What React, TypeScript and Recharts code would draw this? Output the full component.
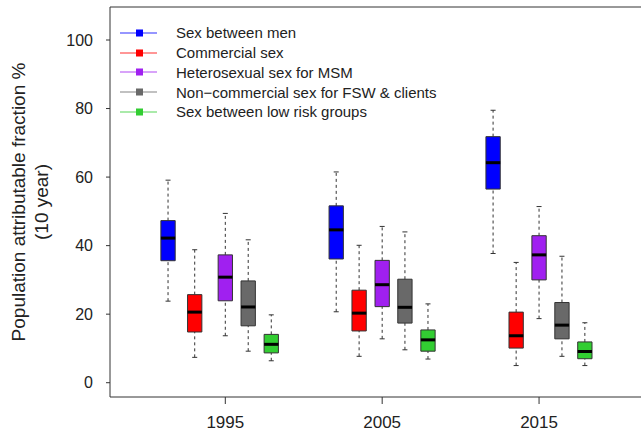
import React from "react"
import { ComposedChart, XAxis, YAxis, Scatter, ReferenceArea, ReferenceLine, Label } from "recharts"

// tick labels
const yearTicks = [1995, 2005, 2015]
const pafTicks = [0, 20, 40, 60, 80, 100]

const seriesNames = [
  "Sex between men",
  "Commercial sex",
  "Heterosexual sex for MSM",
  "Non\u2212commercial sex for FSW & clients",
  "Sex between low risk groups",
]
const seriesColors = ["#0000FF", "#FF0000", "#A020F0", "#696969", "#32CD32"]

// box centres (calendar year) for 1995 / 2005 / 2015
const msmPos = [1991.35, 2002.07, 2012.07]
const commPos = [1993.05, 2003.53, 2013.54]
const hetPos = [1995.0, 2005.0, 2015.0]
const noncommPos = [1996.46, 2006.45, 2016.46]
const lowPos = [1997.93, 2007.92, 2017.92]

// whisker low, Q1, median, Q3, whisker high
const msmLo = [23.8, 20.7, 37.7]
const msmQ1 = [35.6, 36.1, 56.5]
const msmMed = [42.2, 44.6, 64.2]
const msmQ3 = [47.3, 51.6, 71.8]
const msmHi = [59.1, 61.5, 79.5]

const commLo = [7.4, 7.7, 5.0]
const commQ1 = [14.8, 15.1, 10.1]
const commMed = [20.6, 20.3, 13.7]
const commQ3 = [25.7, 27.0, 20.6]
const commHi = [38.8, 40.1, 35.1]

const hetLo = [13.7, 12.8, 18.7]
const hetQ1 = [23.9, 22.2, 30.0]
const hetMed = [30.8, 28.6, 37.3]
const hetQ3 = [37.3, 35.7, 42.9]
const hetHi = [49.4, 45.6, 51.4]

const noncommLo = [9.2, 9.6, 7.7]
const noncommQ1 = [16.6, 17.4, 12.8]
const noncommMed = [22.1, 22.0, 16.8]
const noncommQ3 = [29.7, 30.2, 23.4]
const noncommHi = [41.7, 44.0, 36.9]

const lowLo = [6.4, 6.9, 5.0]
const lowQ1 = [8.7, 9.2, 7.0]
const lowMed = [11.2, 12.5, 9.1]
const lowQ3 = [14.1, 15.4, 11.9]
const lowHi = [19.8, 23.0, 17.5]

const X_DOMAIN = [1987.65, 2022.71]
const Y_DOMAIN = [-4.17, 109.63]
const HALF_BOX = 0.456
const HALF_CAP = 0.16
const FONT = "'Liberation Sans', Arial, sans-serif"
const INK = "#222"

const seriesStats = [
  { pos: msmPos, lo: msmLo, q1: msmQ1, med: msmMed, q3: msmQ3, hi: msmHi },
  { pos: commPos, lo: commLo, q1: commQ1, med: commMed, q3: commQ3, hi: commHi },
  { pos: hetPos, lo: hetLo, q1: hetQ1, med: hetMed, q3: hetQ3, hi: hetHi },
  { pos: noncommPos, lo: noncommLo, q1: noncommQ1, med: noncommMed, q3: noncommQ3, hi: noncommHi },
  { pos: lowPos, lo: lowLo, q1: lowQ1, med: lowMed, q3: lowQ3, hi: lowHi },
]

const boxes = seriesStats.flatMap((s, si) =>
  s.pos.map((x, i) => ({
    key: `${si}-${i}`,
    color: seriesColors[si],
    x,
    lo: s.lo[i],
    q1: s.q1[i],
    med: s.med[i],
    q3: s.q3[i],
    hi: s.hi[i],
  }))
)

const YLabel = () => (
  <g fontFamily={FONT} fontSize={19} fill={INK}>
    <text transform="translate(18, 202) rotate(-90)" textAnchor="middle" dominantBaseline="central" fill={INK}>
      Population attributable fraction %
    </text>
    <text transform="translate(41, 202) rotate(-90)" textAnchor="middle" dominantBaseline="central" fill={INK}>
      (10 year)
    </text>
  </g>
)

const LegendBox = () => (
  <div style={{ position: "absolute", left: 120, top: 23, fontFamily: FONT, fontSize: 15, color: INK }}>
    {seriesNames.map((name, i) => (
      <div key={name} style={{ display: "flex", alignItems: "center", height: 19.75 }}>
        <svg width={38} height={10} style={{ marginRight: 18 }}>
          <line x1={0} y1={5} x2={37} y2={5} stroke={seriesColors[i]} strokeOpacity={0.55} strokeWidth={1.5} />
          <rect x={16} y={1.5} width={7} height={7} fill={seriesColors[i]} />
        </svg>
        <span style={{ whiteSpace: "nowrap" }}>{name}</span>
      </div>
    ))}
  </div>
)

export default function App() {
  return (
    <div style={{ position: "absolute", left: 0, top: 0, width: 641, height: 434, overflow: "hidden", background: "#fff" }}>
      <ComposedChart width={660} height={434} margin={{ top: 7, right: 0, bottom: 0, left: 0 }}>
        <XAxis
          type="number"
          dataKey="x"
          domain={X_DOMAIN}
          ticks={yearTicks}
          allowDataOverflow
          height={37}
          tickSize={7}
          tickMargin={12}
          stroke="#333"
          tick={{ fill: INK, fontSize: 17, fontFamily: FONT }}
        />
        <YAxis
          type="number"
          dataKey="y"
          domain={Y_DOMAIN}
          ticks={pafTicks}
          allowDataOverflow
          width={110}
          tickSize={4}
          tickMargin={13}
          stroke="#333"
          tick={{ fill: INK, fontSize: 16, fontFamily: FONT }}
        >
          <Label content={<YLabel />} />
        </YAxis>
        <ReferenceLine y={Y_DOMAIN[1]} stroke="#333" ifOverflow="visible" />

        {boxes.map((b) => (
          <ReferenceLine
            key={`wu-${b.key}`}
            segment={[{ x: b.x, y: b.q3 }, { x: b.x, y: b.hi }]}
            stroke="#333"
            strokeDasharray="3 3"
            ifOverflow="visible"
          />
        ))}
        {boxes.map((b) => (
          <ReferenceLine
            key={`wl-${b.key}`}
            segment={[{ x: b.x, y: b.lo }, { x: b.x, y: b.q1 }]}
            stroke="#333"
            strokeDasharray="3 3"
            ifOverflow="visible"
          />
        ))}
        {boxes.map((b) => (
          <ReferenceLine
            key={`cu-${b.key}`}
            segment={[{ x: b.x - HALF_CAP, y: b.hi }, { x: b.x + HALF_CAP, y: b.hi }]}
            stroke="#333"
            ifOverflow="visible"
          />
        ))}
        {boxes.map((b) => (
          <ReferenceLine
            key={`cl-${b.key}`}
            segment={[{ x: b.x - HALF_CAP, y: b.lo }, { x: b.x + HALF_CAP, y: b.lo }]}
            stroke="#333"
            ifOverflow="visible"
          />
        ))}
        {boxes.map((b) => (
          <ReferenceArea
            key={`box-${b.key}`}
            x1={b.x - HALF_BOX}
            x2={b.x + HALF_BOX}
            y1={b.q1}
            y2={b.q3}
            fill={b.color}
            fillOpacity={1}
            stroke="#333"
            strokeWidth={1}
            ifOverflow="visible"
          />
        ))}
        {boxes.map((b) => (
          <ReferenceLine
            key={`med-${b.key}`}
            segment={[{ x: b.x - HALF_BOX, y: b.med }, { x: b.x + HALF_BOX, y: b.med }]}
            stroke="#000"
            strokeWidth={3}
            ifOverflow="visible"
          />
        ))}

        {seriesStats.map((s, si) => (
          <Scatter
            key={seriesNames[si]}
            name={seriesNames[si]}
            data={s.pos.map((x, i) => ({ x, y: s.med[i] }))}
            shape={() => <g />}
            isAnimationActive={false}
          />
        ))}
      </ComposedChart>
      <LegendBox />
    </div>
  )
}
